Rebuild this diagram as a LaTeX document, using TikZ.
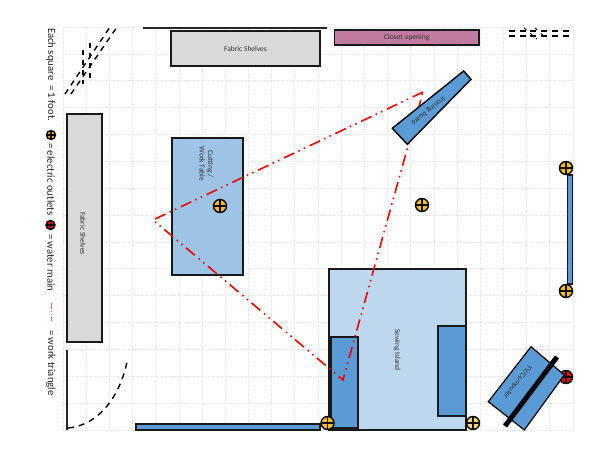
\documentclass[tikz,border=0pt]{standalone}
\usepackage{fontspec}
\setmainfont{Carlito}
\definecolor{blue5}{HTML}{5B9BD5}
\definecolor{blue6}{HTML}{9DC3E6}
\definecolor{blue7}{HTML}{BDD7EE}
\definecolor{yel}{HTML}{FFC000}
\definecolor{yelp}{HTML}{FFD966}
\definecolor{mauve}{HTML}{C27BA0}
\tikzset{
  x=1pt,y=-1pt,
  gridline/.style={draw=black!10,line width=0.7pt,densely dotted},
  tag/.style={font=\fontsize{7.5}{8.5}\selectfont,text=black!80,align=center,inner sep=0pt},
  box/.style={draw=black!90,line width=1.5pt,inner sep=0pt,tag},
  shelf/.style={box,fill=gray!30},
  blue1/.style={box,fill=blue5},
  blue2/.style={box,fill=blue6},
  blue3/.style={box,fill=blue7},
  wall/.style={draw=black!85,line width=1.5pt},
  dashline/.style={draw=black,line width=1.4pt,dash pattern=on 5.5pt off 5pt},
  worktri/.style={draw=red!95!black,line width=1.6pt,dash pattern=on 11.5pt off 5pt on 1.5pt off 4.5pt on 1.5pt off 4.5pt},
  socket/.style={circle,draw=black,line width=1.4pt,minimum size=13pt,inner sep=0pt,
    path picture={\draw[black,line width=1.2pt]
      (path picture bounding box.north)--(path picture bounding box.south)
      (path picture bounding box.west)--(path picture bounding box.east);}},
  outlet/.style={socket,fill=yel},
  outletpale/.style={socket,fill=yelp},
  watermain/.style={socket,fill=red!95!black},
  legend/.style={rotate=-90,font=\fontsize{10.7}{12}\selectfont,text=black!85,anchor=west,inner sep=0pt},
}
\begin{document}
\begin{tikzpicture}
\useasboundingbox (0,0) rectangle (600,464);
% grid
\foreach \i in {0,...,22} \draw[gridline] ({63+23.18*\i},27) -- ({63+23.18*\i},430);
\foreach \i in {0,...,15} \draw[gridline] (63,{27+26.87*\i}) -- (573,{27+26.87*\i});
% walls
\coordinate (wt1) at (143,28); \coordinate (wt2) at (327,28);
\draw[wall] (wt1) -- (wt2);
\coordinate (wl1) at (67,350); \coordinate (wl2) at (67,430);
\draw[wall] (wl1) -- (wl2);
% door swing, bottom left
\coordinate (sw1) at (68,428); \coordinate (sw2) at (127,362);
\draw[dashline,dash pattern=on 6pt off 5pt] (sw1) .. controls (100,425) and (120,395) .. (sw2);
% top left dashes
\coordinate (a1) at (65,94); \coordinate (a2) at (110,27);
\coordinate (b1) at (71,94); \coordinate (b2) at (117,27);
\draw[dashline] (a1) -- (a2);
\draw[dashline] (b1) -- (b2);
\coordinate (c1) at (83,50); \coordinate (c2) at (83,84);
\coordinate (d1) at (90,43); \coordinate (d2) at (90,78);
\draw[dashline,line width=1.1pt,dash pattern=on 5pt off 5pt] (c1) -- (c2);
\draw[dashline,line width=1.1pt,dash pattern=on 5pt off 5pt] (d1) -- (d2);
% top right dashes
\coordinate (g1) at (524,28); \coordinate (g2) at (537,39);
\coordinate (h1) at (535,28); \coordinate (h2) at (547,39);
\draw[dashline,dash pattern=on 3pt off 5pt,line width=1pt] (g1) -- (g2);
\draw[dashline,dash pattern=on 3pt off 5pt,line width=1pt] (h1) -- (h2);
\coordinate (e1) at (509,30.7); \coordinate (e2) at (569,30.7);
\coordinate (f1) at (509,36.3); \coordinate (f2) at (569,36.3);
\draw[dashline,line width=1.8pt,dash pattern=on 6pt off 4.7pt] (e1) -- (e2);
\draw[dashline,line width=1.8pt,dash pattern=on 6pt off 4.7pt] (f1) -- (f2);
% furniture
\node[shelf,minimum width=149pt,minimum height=35pt] (topshelf) at (245.5,48.5) {Fabric Shelves};
\node[box,fill=mauve,minimum width=144.5pt,minimum height=15pt] (closet) at (406.7,37.5) {Closet opening};
\node[shelf,minimum width=35pt,minimum height=228pt] (leftshelf) at (84.5,228) {};
\node[tag,rotate=-90] (leftlabel) at (83,233.5) {Fabric Shelves};
\node[blue2,minimum width=71pt,minimum height=137pt] (table) at (207.5,206.5) {};
\node[tag,rotate=-90] (tablelabel) at (206.5,164) {Cutting /\\Work Table};
\node[blue3,minimum width=137pt,minimum height=161pt] (island) at (397.5,349.5) {};
\node[tag,rotate=-90] (islandlabel) at (397,350) {Sewing Island};
\node[blue1,minimum width=27pt,minimum height=91pt] (leaf1) at (344.5,382.5) {};
\node[blue1,minimum width=28pt,minimum height=90pt] (leaf2) at (452,371) {};
\node[blue1,minimum width=184pt,minimum height=6pt] (bottombar) at (228,427) {};
\node[blue1,minimum width=5pt,minimum height=109pt] (rightbar) at (570,229.5) {};
% work triangle
\coordinate (tri1) at (423,92); \coordinate (tri2) at (153,220); \coordinate (tri3) at (343,380);
\draw[worktri] (tri1) -- (tri2) -- (tri3) -- (tri1);
% ironing board
\coordinate (ib1) at (463.7,71); \coordinate (ib2) at (471,79.3);
\coordinate (ib3) at (407.3,144.3); \coordinate (ib4) at (392.3,128.3);
\draw[line width=1.4pt,draw=black,fill=blue5] (ib1) -- (ib2) -- (ib3) -- (ib4) -- cycle;
\node[tag,rotate=218.7] (iblabel) at (428,111) {Ironing board};
% water main and TV
\node[watermain] (wm) at (566,377) {};
\coordinate (tv1) at (531,346.7); \coordinate (tv2) at (564.3,375);
\coordinate (tv3) at (524.3,430); \coordinate (tv4) at (488.3,401.7);
\draw[line width=1.2pt,draw=black,fill=blue5] (tv1) -- (tv2) -- (tv3) -- (tv4) -- cycle;
\node[tag,rotate=232] (tvlabel) at (517.5,382) {TV/Computer};
\coordinate (st1) at (505,426); \coordinate (st2) at (557,357);
\draw[line width=5pt,draw=black] (st1) -- (st2);
% outlets
\node[outlet] (o1) at (220,206) {};
\node[outlet] (o2) at (422,205) {};
\node[outlet] (o3) at (566,168) {};
\node[outlet] (o4) at (566,291) {};
\node[outlet] (o5) at (327.5,423) {};
\node[outletpale] (o6) at (473,423) {};
% legend
\node[legend] (l1) at (51,28) {Each square\ \ = 1 foot.};
\node[outlet,minimum size=9pt] (l2) at (51,135) {};
\node[legend] (l3) at (51,143) {= electric outlets};
\node[watermain,minimum size=9pt] (l4) at (50.5,225) {};
\node[legend] (l5) at (51,234) {= water main};
\coordinate (l6a) at (51,303); \coordinate (l6b) at (51,321);
\draw[worktri,line width=1pt,draw=red!60,dash pattern=on 6pt off 2pt on 1pt off 2pt on 1pt off 2pt] (l6a) -- (l6b);
\node[legend] (l7) at (51,330) {= work triangle};
\end{tikzpicture}
\end{document}
